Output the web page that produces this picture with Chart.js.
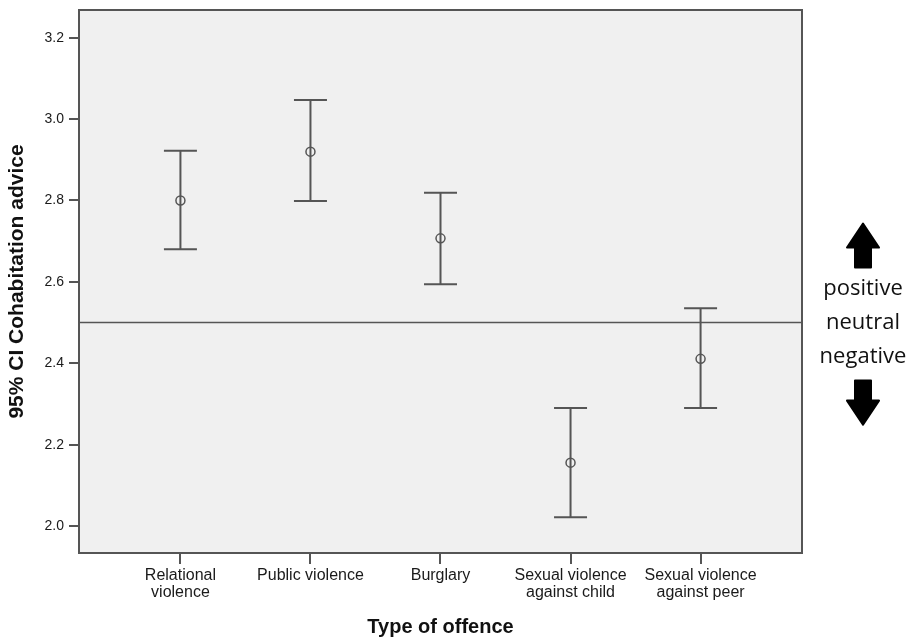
<!DOCTYPE html>
<html>
<head>
<meta charset="utf-8">
<script src="https://cdn.jsdelivr.net/npm/chart.js@4.4.1/dist/chart.umd.min.js"></script>
<style>
  html, body { margin: 0; padding: 0; background: #fff; }
  #wrap { width: 915px; height: 639px; }
</style>
</head>
<body>
<div id="wrap"><canvas id="myChart"></canvas></div>
<script>
// categories and values
const categories = [
  ["Relational", "violence"],
  "Public violence",
  "Burglary",
  ["Sexual violence", "against child"],
  ["Sexual violence", "against peer"],
];
const means = [2.80, 2.92, 2.707, 2.156, 2.411];
const lows = [2.68, 2.799, 2.594, 2.022, 2.29];
const highs = [2.922, 3.047, 2.819, 2.29, 2.535];
const neutral = 2.5;
const yTicks = [2.0, 2.2, 2.4, 2.6, 2.8, 3.0, 3.2];
const sideLabels = ["positive", "neutral", "negative"];

const xMin = 0.22, xMax = 5.78;
const yMin = 1.934, yMax = 3.268;
const ink = "#555";

let positions = categories.map((c, i) => i + 1);

let stems = [];
positions.forEach((x, i) => {
  stems.push({ x: x, y: lows[i] });
  stems.push({ x: x, y: highs[i] });
  stems.push({ x: x, y: null });
});
let caps = [];
positions.forEach((x, i) => {
  caps.push({ x: x, y: lows[i] });
  caps.push({ x: x, y: highs[i] });
});
let meanPts = positions.map((x, i) => ({ x: x, y: means[i] }));

// grey plot background and frame
const frame = {
  id: "frame",
  beforeDraw(chart) {
    let { ctx, chartArea: a } = chart;
    ctx.save();
    ctx.fillStyle = "#f0f0f0";
    ctx.fillRect(a.left, a.top, a.right - a.left, a.bottom - a.top);
    ctx.restore();
  },
  afterDatasetsDraw(chart) {
    let { ctx, chartArea: a } = chart;
    ctx.save();
    ctx.strokeStyle = ink;
    ctx.lineWidth = 2;
    ctx.strokeRect(a.left, a.top, a.right - a.left, a.bottom - a.top);
    ctx.restore();
  },
};

// arrows and words to the right of the plot
const side = {
  id: "side",
  afterDraw(chart) {
    let { ctx, chartArea: a } = chart;
    let y0 = chart.scales.y.getPixelForValue(neutral);
    let cx = a.right + 61;
    ctx.save();
    ctx.fillStyle = "#111";
    ctx.font = "22px 'Open Sans'";
    ctx.textAlign = "center";
    ctx.textBaseline = "middle";
    sideLabels.forEach((t, i) => ctx.fillText(t, cx, y0 + (i - 1) * 34));

    function arrow(dir, base) {
      // dir -1 = up, 1 = down; base is the flat end of the shaft
      ctx.beginPath();
      ctx.moveTo(cx - 8, base);
      ctx.lineTo(cx - 8, base + dir * 20);
      ctx.lineTo(cx - 16, base + dir * 20);
      ctx.lineTo(cx, base + dir * 44);
      ctx.lineTo(cx + 16, base + dir * 20);
      ctx.lineTo(cx + 8, base + dir * 20);
      ctx.lineTo(cx + 8, base);
      ctx.closePath();
      ctx.lineJoin = "round";
      ctx.lineWidth = 2;
      ctx.strokeStyle = "#000";
      ctx.fillStyle = "#000";
      ctx.fill();
      ctx.stroke();
    }
    arrow(-1, y0 - 55);
    arrow(1, y0 + 58);
    ctx.restore();
  },
};

const ctx = document.getElementById("myChart");
const myChart = new Chart(ctx, {
  type: "scatter",
  data: {
    datasets: [
      {
        type: "line",
        data: [{ x: xMin, y: neutral }, { x: xMax, y: neutral }],
        borderColor: ink,
        borderWidth: 1.5,
        pointRadius: 0,
      },
      {
        type: "line",
        data: stems,
        borderColor: ink,
        borderWidth: 2,
        pointRadius: 0,
        spanGaps: false,
      },
      {
        data: caps,
        pointStyle: "line",
        pointRadius: 16.5,
        borderColor: ink,
        borderWidth: 2,
      },
      {
        data: meanPts,
        pointStyle: "circle",
        pointRadius: 4.5,
        borderColor: ink,
        borderWidth: 1.5,
        backgroundColor: "#f0f0f0",
      },
    ],
  },
  options: {
    responsive: true,
    maintainAspectRatio: false,
    animation: false,
    events: [],
    layout: { autoPadding: false, padding: { top: 10, right: 113, bottom: 0, left: 0 } },
    plugins: { legend: { display: false }, tooltip: { enabled: false } },
    scales: {
      x: {
        type: "linear",
        min: xMin,
        max: xMax,
        afterFit(s) { s.height = 86; s.paddingLeft = 0; s.paddingRight = 0; },
        afterBuildTicks(s) { s.ticks = positions.map((v) => ({ value: v })); },
        ticks: {
          callback: (v) => categories[v - 1],
          font: { family: "Arial, 'Liberation Sans'", size: 16, lineHeight: 1.05 },
          color: "#1a1a1a",
          padding: 3,
          maxRotation: 0,
          autoSkip: false,
        },
        grid: { drawOnChartArea: false, drawTicks: true, tickLength: 11, color: ink, lineWidth: 2 },
        border: { display: false },
        title: {
          display: true,
          text: "Type of offence",
          font: { family: "Arial, 'Liberation Sans'", size: 20, weight: "bold" },
          color: "#111",
          padding: { top: 0, bottom: 0 },
        },
      },
      y: {
        min: yMin,
        max: yMax,
        afterFit(s) { s.width = 79; s.paddingTop = 0; s.paddingBottom = 0; },
        afterBuildTicks(s) { s.ticks = yTicks.map((v) => ({ value: v })); },
        ticks: {
          callback: (v) => v.toFixed(1),
          font: { family: "Arial, 'Liberation Sans'", size: 14 },
          color: "#1a1a1a",
          padding: 5,
        },
        grid: { drawOnChartArea: false, drawTicks: true, tickLength: 10, color: ink, lineWidth: 2 },
        border: { display: false },
        title: {
          display: true,
          text: "95% CI Cohabitation advice",
          font: { family: "Arial, 'Liberation Sans'", size: 21, weight: "bold" },
          color: "#111",
          padding: { top: 5, bottom: 0 },
        },
      },
    },
  },
  plugins: [frame, side],
});
</script>
</body>
</html>
